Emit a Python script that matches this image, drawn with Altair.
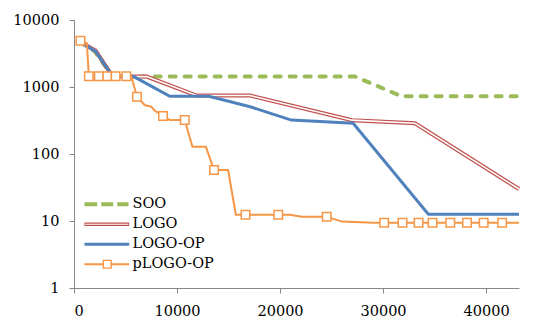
import altair as alt
import pandas as pd

SERIES = ["SOO", "LOGO", "LOGO-OP", "pLOGO-OP"]
COLORS = ["#9BBB59", "#C0504D", "#4F81BD", "#F79646"]

SOO_X = [630, 2000, 3750, 27300, 31800, 43200]
SOO_Y = [4700, 3400, 1430, 1430, 727, 727]

LOGO_X = [630, 2100, 3750, 7050, 11900, 17100, 27000, 33100, 43200]
LOGO_Y = [4700, 3480, 1430, 1430, 745, 745, 320, 287, 30]

LOGOOP_X = [630, 2100, 3750, 5800, 9300, 13100, 17100, 21100, 27100, 34400, 43200]
LOGOOP_Y = [4700, 3400, 1430, 1430, 725, 725, 508, 321, 287, 12.6, 12.6]

P_X = [630, 1250, 1440, 2410, 3230, 4040, 5080, 5560, 6110, 6860, 7510, 7830,
       8640, 9290, 10750, 11500, 12800, 13600, 14960, 15710, 16650, 19830, 20960,
       22100, 24530, 26000, 29050, 30110, 31890, 33450, 34810, 36530, 38150,
       39770, 41560, 43200]
P_Y = [4900, 4500, 1445, 1445, 1445, 1445, 1445, 1445, 717, 538, 508, 444,
       369, 322, 322, 128, 128, 57.7, 57.7, 12.4, 12.4, 12.4, 12.4,
       11.6, 11.6, 9.8, 9.43, 9.43, 9.43, 9.43, 9.43, 9.43, 9.43,
       9.43, 9.43, 9.43]
P_MARK = [1, 0, 1, 1, 1, 1, 1, 0, 1, 0, 0, 0,
          1, 0, 1, 0, 0, 1, 0, 0, 1, 1, 0,
          0, 1, 0, 0, 1, 1, 1, 1, 1, 1,
          1, 1, 0]

X_TICKS = [0, 10000, 20000, 30000, 40000]
Y_TICKS = [1, 10, 100, 1000, 10000]

# legend symbol shapes (custom paths)
PATHS = [
    "M-10.2,-0.5H-7V0.5H-10.2Z M-6,-0.5H-3V0.5H-6Z M-2,-0.5H0.8V0.5H-2Z",
    "M-10.2,-0.45H1V0.45H-10.2Z M-10,-0.15V0.15H0.8V-0.15Z",
    "M-10.2,-0.375H1V0.375H-10.2Z",
    "M-10.2,-0.25H-5.65V0.25H-10.2Z M-3.35,-0.25H1V0.25H-3.35Z "
    "M-5.65,-1.15H-3.35V1.15H-5.65Z M-5.3,-0.8V0.8H-3.7V-0.8Z",
]

rows = []
for name, xs, ys, ms in [
    ("SOO", SOO_X, SOO_Y, [0] * len(SOO_X)),
    ("LOGO", LOGO_X, LOGO_Y, [0] * len(LOGO_X)),
    ("LOGO-OP", LOGOOP_X, LOGOOP_Y, [0] * len(LOGOOP_X)),
    ("pLOGO-OP", P_X, P_Y, P_MARK),
]:
    for i, (x, y, m) in enumerate(zip(xs, ys, ms)):
        rows.append({"series": name, "x": x, "y": y, "order": i, "mark": m})
df = pd.DataFrame(rows)

xenc = alt.X("x:Q", scale=alt.Scale(domain=[0, 43200], nice=False, zero=False),
             axis=alt.Axis(values=X_TICKS, format="d", title=None, labelPadding=11))
yenc = alt.Y("y:Q", scale=alt.Scale(type="log", domain=[1, 10000], nice=False),
             axis=alt.Axis(values=Y_TICKS, format="d", title=None, labelPadding=10))

base = alt.Chart(df)

def line_layer(name, **kw):
    return base.transform_filter(alt.datum.series == name).mark_line(**kw).encode(
        x=xenc, y=yenc, order="order:Q")

soo = line_layer("SOO", color=COLORS[0], strokeWidth=4, strokeDash=[6, 9], strokeCap="round")
logo_r = line_layer("LOGO", color=COLORS[1], strokeWidth=4)
logo_w = line_layer("LOGO", color="white", strokeWidth=1.6)
logoop = line_layer("LOGO-OP", color=COLORS[2], strokeWidth=3)
pline = line_layer("pLOGO-OP", color=COLORS[3], strokeWidth=2)
ppts = base.transform_filter((alt.datum.series == "pLOGO-OP") & (alt.datum.mark == 1)).mark_point(
    shape="square", size=72, filled=True, fill="white", stroke=COLORS[3], strokeWidth=1.5, opacity=1
).encode(x=xenc, y=yenc)

legend_layer = base.transform_filter("false").mark_point(filled=True, opacity=1).encode(
    x=xenc, y=yenc,
    color=alt.Color("series:N", scale=alt.Scale(domain=SERIES, range=COLORS),
                    legend=alt.Legend(title=None)),
    shape=alt.Shape("series:N", scale=alt.Scale(domain=SERIES, range=PATHS),
                    legend=alt.Legend(title=None)),
)

chart = alt.layer(soo, logo_r, logo_w, logoop, pline, ppts, legend_layer).properties(
    width=445, height=268,
    padding={"left": 66, "top": 12, "right": 13, "bottom": 39},
    autosize=alt.AutoSizeParams(type="none"),
).configure_view(stroke=None).configure_axis(
    grid=False, domainColor="#868686", tickColor="#868686", tickSize=5,
    labelFont="DejaVu Serif", labelFontSize=14.5, labelColor="black",
).configure_legend(
    orient="none", legendX=44, legendY=177, labelFont="DejaVu Serif",
    labelFontSize=14.5, labelColor="black", symbolSize=64, rowPadding=5, labelOffset=0,
)

chart.save("out.html", embed_options={"renderer": "svg", "actions": False})
